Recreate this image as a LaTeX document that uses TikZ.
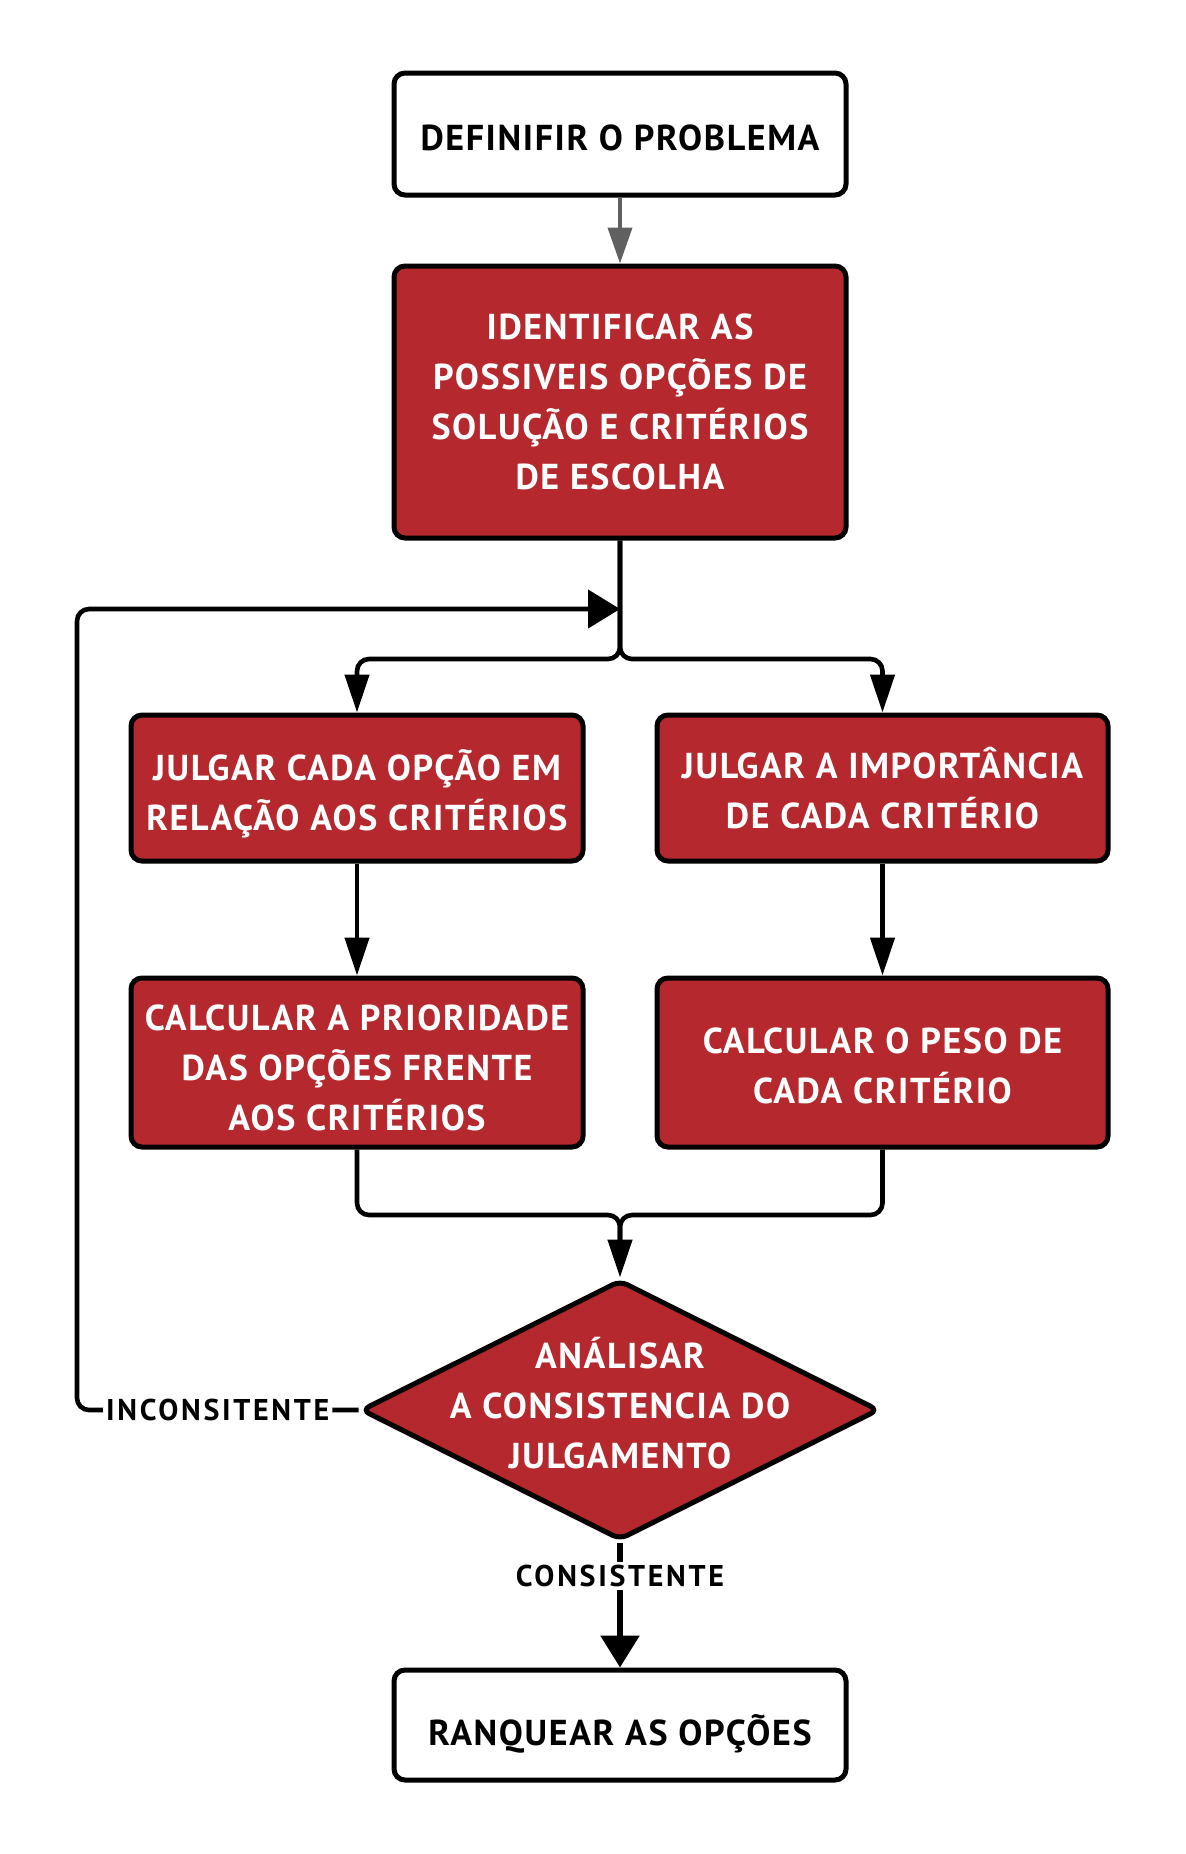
\documentclass[tikz,border=0pt]{standalone}
\usepackage{fontspec}
\setmainfont{PT Sans}
\newfontfamily\boxfont{PT Sans}[LetterSpace=4.5]
\newfontfamily\lblfont{PT Sans}[LetterSpace=9]
\usetikzlibrary{shapes.geometric,arrows.meta}
\definecolor{boxred}{RGB}{181,41,46}
\definecolor{arrgray}{RGB}{96,96,96}
\newcommand{\topstrut}[1]{\rule{0pt}{#1}}
\begin{document}
\begin{tikzpicture}[x=0.5pt,y=-0.5pt,
  box/.style={draw=black,line width=2.5pt,rounded corners=5.5pt,minimum width=226pt,align=center,
    font=\boxfont\bfseries\fontsize{18}{25}\selectfont,inner sep=0pt},
  redbox/.style={box,fill=boxred,text=white},
  whitebox/.style={box,fill=white,text=black},
  conn/.style={line width=2.3pt,rounded corners=6pt},
  tipA/.style={-{Triangle[width=12pt,length=19pt]}},
  tipB/.style={-{Triangle[width=19pt,length=16pt]}},
  lbl/.style={fill=white,inner sep=1.5pt,font=\lblfont\bfseries\fontsize{15}{17}\selectfont}]
\useasboundingbox (0,0) rectangle (1185,1854);
% nodes
\node[whitebox,minimum height=61pt] (n1) at (620,134) {\topstrut{17pt}DEFINIFIR O PROBLEMA};
\node[redbox,minimum height=136pt] (n2) at (620,402) {IDENTIFICAR AS\\POSSIVEIS OPÇÕES DE\\SOLUÇÃO E CRITÉRIOS\\DE ESCOLHA};
\node[redbox,minimum height=73pt] (n3) at (357,788) {\topstrut{21pt}JULGAR CADA OPÇÃO EM\\RELAÇÃO AOS CRITÉRIOS};
\node[redbox,minimum height=73pt,minimum width=225.5pt] (n4) at (882.5,788) {JULGAR A IMPORTÂNCIA\\DE CADA CRITÉRIO};
\node[redbox,minimum height=84.5pt] (n5) at (357,1062.5) {\topstrut{18.5pt}CALCULAR A PRIORIDADE\\DAS OPÇÕES FRENTE\\AOS CRITÉRIOS};
\node[redbox,minimum height=84.5pt,minimum width=225.5pt] (n6) at (882.5,1062.5) {\topstrut{16pt}CALCULAR O PESO DE\\CADA CRITÉRIO};
\node[diamond,draw=black,line width=2.5pt,fill=boxred,minimum width=259pt,minimum height=130pt,
  inner sep=0pt,rounded corners=4pt] (d) at (620,1410) {};
\node[text=white,align=center,font=\boxfont\bfseries\fontsize{18}{25}\selectfont] (dt) at (620,1403) {ANÁLISAR\\A CONSISTENCIA DO\\JULGAMENTO};
\node[whitebox,minimum height=55pt] (n7) at (620,1725) {\topstrut{24pt}RANQUEAR AS OPÇÕES};
% coordinates
\coordinate (split) at (620,659);
\coordinate (join) at (620,609);
\coordinate (merge) at (620,1215);
\coordinate (lbl) at (77,1410);
\coordinate (ltl) at (77,609);
% connectors
\draw[line width=2pt,arrgray,-{Triangle[width=12pt,length=18pt]}] (n1.south) -- (n2.north);
\draw[conn,tipA] (n2.south) -- (split) -| (n3.north);
\draw[conn,tipA] (n2.south) -- (split) -| (n4.north);
\draw[conn,tipA] (n3.south) -- (n5.north);
\draw[conn,tipA] (n4.south) -- (n6.north);
\draw[conn,tipA] (n5.south) |- (merge) -- (d.north);
\draw[conn] (n6.south) |- (merge) -- (620,1240);
\draw[conn,tipB] (d.west) -- node[lbl] {INCONSITENTE} (lbl) -- (ltl) -- (join);
\draw[line width=3pt,tipB] (d.south) -- node[lbl,pos=0.27] {CONSISTENTE} (n7.north);
\end{tikzpicture}
\end{document}
